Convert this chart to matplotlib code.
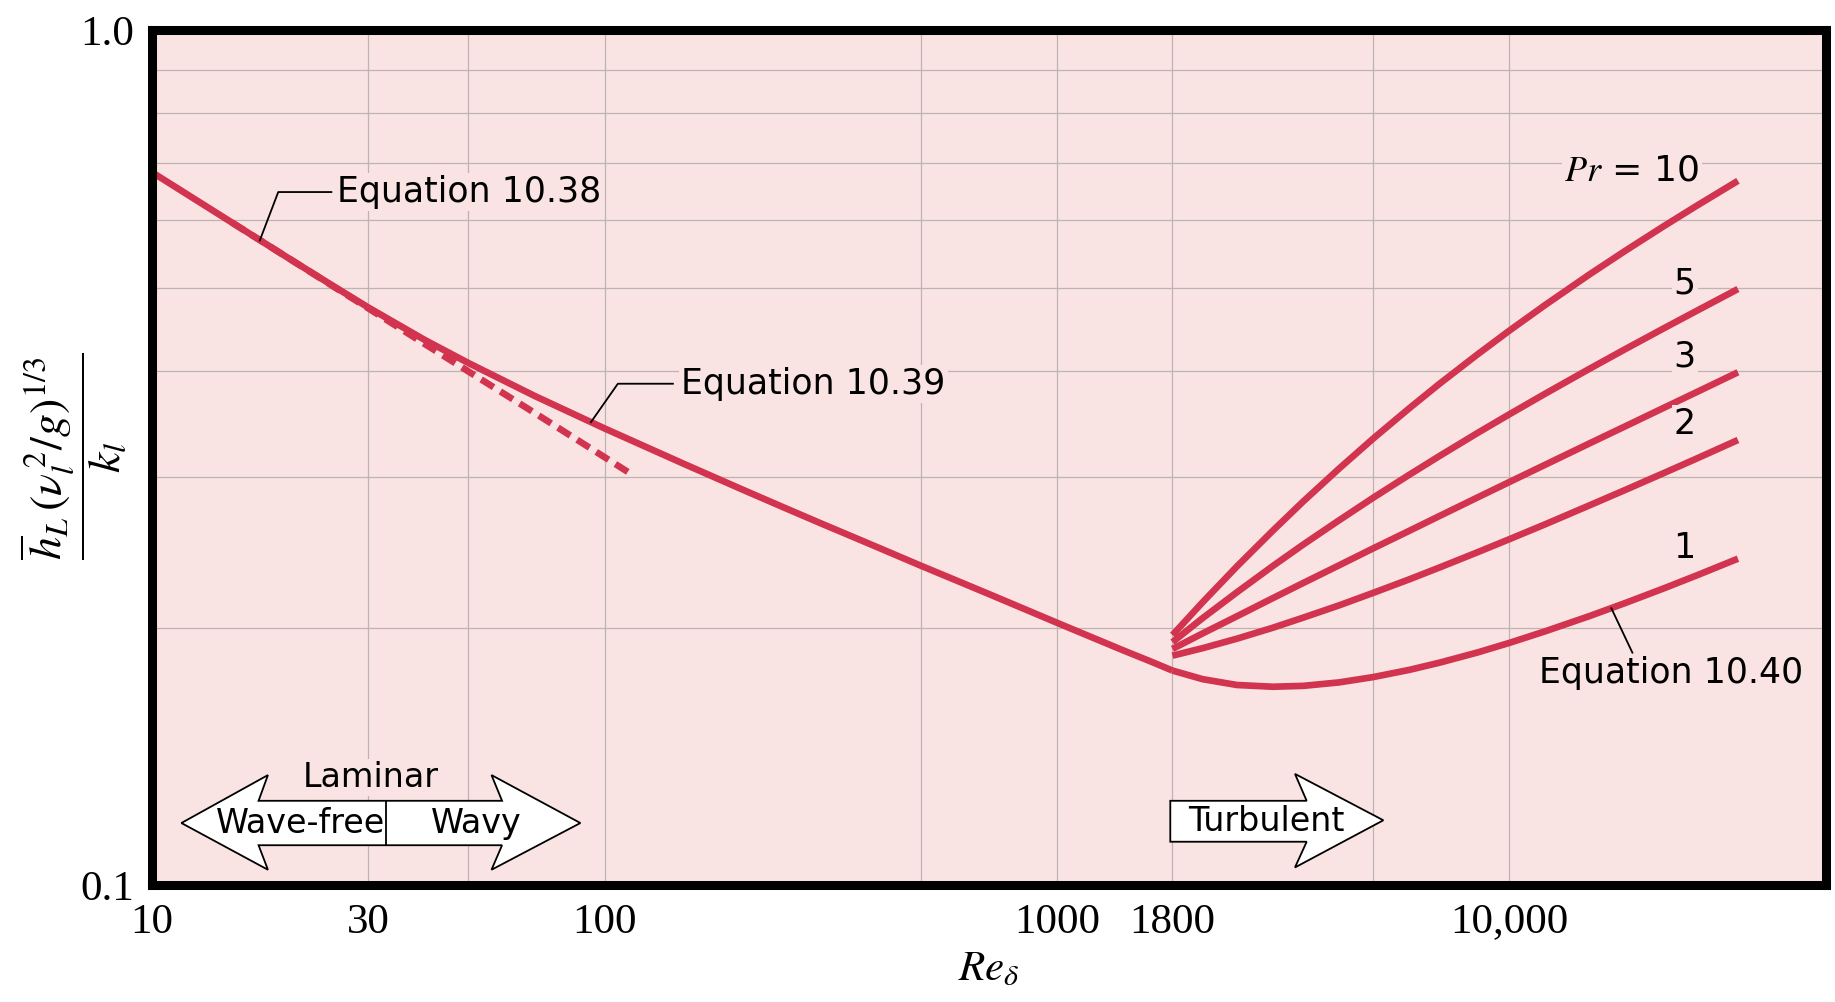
import matplotlib
matplotlib.use("Agg")
import matplotlib.pyplot as plt
from matplotlib.patches import Polygon

plt.rcParams['mathtext.fontset'] = 'stix'
plt.rcParams['font.family'] = ['DejaVu Sans']

# --- данные ---
# ламинарная область (сплошная линия: ур. 10.38, затем 10.39)
re_lam = [10, 12, 15, 20, 25, 30, 40, 50, 70, 100, 150, 200, 250, 300, 400, 500,
          600, 700, 850, 1000, 1200, 1400, 1600, 1800]
nu_lam = [0.6823, 0.6421, 0.5961, 0.5416, 0.5032, 0.4743, 0.4345, 0.4082, 0.3736,
          0.3422, 0.3109, 0.2908, 0.2763, 0.2651, 0.2486, 0.2364, 0.2271, 0.2195,
          0.2102, 0.2027, 0.1947, 0.1882, 0.1829, 0.1782]

# продолжение ур. 10.38 (пунктир)
re_dash = [15, 20, 25, 30, 40, 50, 70, 100, 115]
nu_dash = [0.5961, 0.5416, 0.5027, 0.4732, 0.4298, 0.3990, 0.3569, 0.3167, 0.3022]

# турбулентная область, ур. 10.40
re_turb = [1800, 2100, 2500, 3000, 3500, 4200, 5000, 6000, 7000, 8500, 10000,
           12000, 15000, 18000, 22000, 26000, 32000]
pr_values = [10, 5, 3, 2, 1]
nu_pr10 = [0.1961, 0.2143, 0.2360, 0.2598, 0.2810, 0.3070, 0.3330, 0.3611, 0.3858,
           0.4177, 0.4454, 0.4773, 0.5178, 0.5519, 0.5907, 0.6240, 0.6669]
nu_pr5 = [0.1924, 0.2053, 0.2201, 0.2362, 0.2502, 0.2671, 0.2839, 0.3019, 0.3176,
          0.3380, 0.3555, 0.3758, 0.4016, 0.4235, 0.4485, 0.4701, 0.4982]
nu_pr3 = [0.1889, 0.1970, 0.2063, 0.2166, 0.2256, 0.2366, 0.2477, 0.2596, 0.2702,
          0.2841, 0.2962, 0.3103, 0.3285, 0.3440, 0.3620, 0.3776, 0.3981]
nu_pr2 = [0.1855, 0.1893, 0.1942, 0.2000, 0.2055, 0.2124, 0.2197, 0.2278, 0.2352,
          0.2451, 0.2539, 0.2643, 0.2780, 0.2898, 0.3036, 0.3157, 0.3317]
nu_pr1 = [0.1782, 0.1741, 0.1714, 0.1706, 0.1710, 0.1726, 0.1751, 0.1785, 0.1820,
          0.1871, 0.1920, 0.1981, 0.2063, 0.2137, 0.2225, 0.2304, 0.2409]
turb_series = [nu_pr10, nu_pr5, nu_pr3, nu_pr2, nu_pr1]

# оси и сетка
x_ticks = [10, 30, 100, 1000, 1800, 10000]
x_labels = ['10', '30', '100', '1000', '1800', '10,000']
y_ticks = [0.1, 1.0]
y_labels = ['0.1', '1.0']
grid_x = [30, 50, 100, 500, 1000, 1800, 5000, 10000]
grid_y = [0.2, 0.3, 0.4, 0.5, 0.6, 0.7, 0.8, 0.9]

red = '#d2334e'
pink = '#f9e4e3'
grey = '#bdb3b3'

fig = plt.figure(figsize=(18.35, 10.02), dpi=100)
ax = fig.add_axes([0.0829, 0.1168, 0.912, 0.8528])
ax.set_facecolor(pink)
ax.set_xscale('log')
ax.set_yscale('log')
ax.set_xlim(10, 50000)
ax.set_ylim(0.1, 1.0)

for gx in grid_x:
    ax.axvline(gx, color=grey, lw=0.9, zorder=1)
for gy in grid_y:
    ax.axhline(gy, color=grey, lw=0.9, zorder=1)

ax.plot(re_lam, nu_lam, color=red, lw=4.8, solid_capstyle='butt',
        solid_joinstyle='round', zorder=3)
ax.plot(re_dash, nu_dash, color=red, lw=4.8, dashes=(2.2, 1.2),
        dash_capstyle='butt', zorder=3)
for nu in turb_series:
    ax.plot(re_turb, nu, color=red, lw=4.8, solid_capstyle='butt',
            solid_joinstyle='round', zorder=3)

ax.set_xticks(x_ticks)
ax.set_xticklabels(x_labels)
ax.set_yticks(y_ticks)
ax.set_yticklabels(y_labels)
ax.minorticks_off()
ax.tick_params(length=0, labelsize=31, pad=13)
for lab in ax.get_xticklabels() + ax.get_yticklabels():
    lab.set_family('Liberation Serif')

for sp in ax.spines.values():
    sp.set_linewidth(6.5)
    sp.set_color('black')
    sp.set_zorder(10)

ax.set_xlabel(r'$Re_\delta$', fontsize=31, labelpad=4)
fig.text(0.040, 0.545, r'$\dfrac{\overline{h}_L\,(\nu_l^{\,2}/g)^{1/3}}{k_l}$',
         rotation=90, fontsize=33, ha='center', va='center')

tfs = 25
box = dict(facecolor=pink, edgecolor='none', pad=1.5)

# подписи уравнений с выносками
ax.plot([17.3, 19.0, 24.9], [0.568, 0.647, 0.647], color='black', lw=1.3, zorder=4)
ax.text(25.6, 0.647, 'Equation 10.38', fontsize=tfs, va='center', ha='left',
        bbox=box, zorder=5)
ax.plot([93.3, 107, 141.6], [0.348, 0.386, 0.386], color='black', lw=1.3, zorder=4)
ax.text(147.6, 0.386, 'Equation 10.39', fontsize=tfs, va='center', ha='left',
        bbox=box, zorder=5)
ax.plot([16800, 18700], [0.2108, 0.187], color='black', lw=1.3, zorder=4)
ax.text(11600, 0.177, 'Equation 10.40', fontsize=tfs, va='center', ha='left',
        bbox=box, zorder=5)

ax.text(26300, 0.685, r'$Pr$ = 10', fontsize=tfs + 1, va='center', ha='right',
        bbox=box, zorder=5)
pr_label_y = [0.505, 0.415, 0.346, 0.248]
for lab, yy in zip(pr_values[1:], pr_label_y):
    ax.text(24400, yy, str(lab), fontsize=tfs, va='center', ha='center',
            bbox=box, zorder=5)

# стрелки режимов течения (в долях осей)
afs = 24
lam_arrow = [(0.0175, 0.0725), (0.0692, 0.1286), (0.0636, 0.0985),
             (0.2091, 0.0985), (0.2028, 0.1286), (0.2559, 0.0725),
             (0.2028, 0.0178), (0.2091, 0.0465), (0.0636, 0.0465),
             (0.0692, 0.0178)]
ax.add_patch(Polygon(lam_arrow, closed=True, transform=ax.transAxes,
                     facecolor='white', edgecolor='black', lw=1.3, zorder=6))
ax.plot([0.1399, 0.1399], [0.0465, 0.0985], transform=ax.transAxes,
        color='black', lw=1.3, zorder=7)
ax.text(0.0885, 0.0725, 'Wave-free', transform=ax.transAxes, fontsize=afs,
        ha='center', va='center', zorder=7)
ax.text(0.1937, 0.0725, 'Wavy', transform=ax.transAxes, fontsize=afs,
        ha='center', va='center', zorder=7)
ax.text(0.1308, 0.1259, 'Laminar', transform=ax.transAxes, fontsize=afs,
        ha='center', va='center', bbox=box, zorder=7)

turb_arrow = [(0.6084, 0.0985), (0.6899, 0.0985), (0.6829, 0.130),
              (0.7357, 0.0757), (0.6829, 0.0205), (0.6899, 0.0506),
              (0.6084, 0.0506)]
ax.add_patch(Polygon(turb_arrow, closed=True, transform=ax.transAxes,
                     facecolor='white', edgecolor='black', lw=1.3, zorder=6))
ax.text(0.6657, 0.0745, 'Turbulent', transform=ax.transAxes, fontsize=afs,
        ha='center', va='center', zorder=7)

fig.savefig('out.png', dpi=100)
